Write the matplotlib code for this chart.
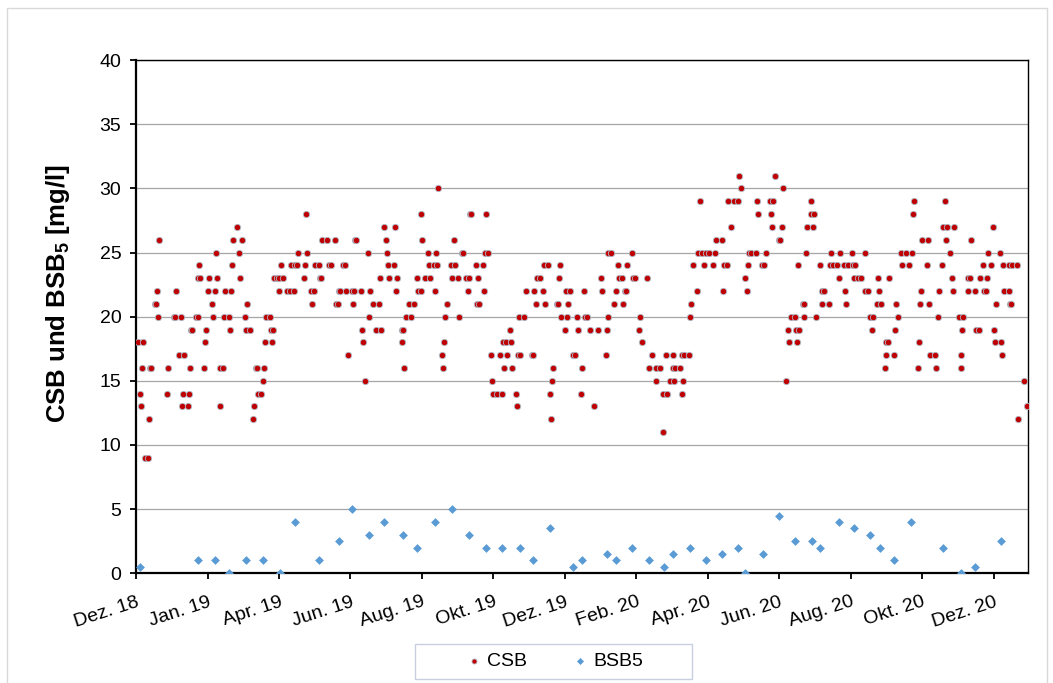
import numpy as np
import pandas as pd
import matplotlib.pyplot as plt
from matplotlib.patches import Rectangle

plt.rcParams['font.family'] = ['Liberation Sans', 'DejaVu Sans']
plt.rcParams['mathtext.fontset'] = 'custom'
plt.rcParams['mathtext.rm'] = 'Liberation Sans'
plt.rcParams['mathtext.bf'] = 'Liberation Sans:bold'

start = pd.Timestamp('2018-12-01')
end = pd.Timestamp('2020-12-31')

# CSB samples: (days since 01.12.2018, mg/l)
csb = [
    (2, 18), (3, 14), (4, 13), (5, 16), (6, 18), (8, 9), (10, 9), (11, 12), (12, 16), (13, 16),
    (16, 21), (17, 21), (18, 22), (19, 20), (20, 26), (26, 14), (27, 16), (32, 20), (33, 20), (34, 22),
    (37, 17), (38, 20), (39, 13), (40, 14), (41, 17), (44, 13), (45, 14), (46, 16), (47, 19), (48, 19),
    (51, 20), (53, 20), (53, 23), (54, 24), (55, 23), (58, 16), (59, 18), (60, 19), (61, 22), (62, 23),
    (65, 21), (66, 20), (67, 22), (68, 25), (69, 23), (72, 13), (72, 16), (74, 16), (75, 20), (76, 22),
    (79, 20), (80, 19), (81, 22), (82, 24), (83, 26), (86, 27), (88, 25), (89, 23), (90, 26), (93, 20),
    (94, 19), (95, 21), (97, 19), (100, 12), (101, 13), (102, 16), (103, 16), (104, 14),
    (107, 14), (108, 15), (109, 16), (110, 18), (111, 20), (114, 20), (115, 19), (116, 18), (117, 19), (118, 23),
    (120, 23), (122, 23), (122, 22), (124, 24), (125, 23), (129, 22), (131, 22), (132, 24), (135, 22), (136, 24),
    (137, 24), (138, 25), (143, 23), (144, 24), (145, 28), (146, 25), (149, 22), (150, 21), (152, 22), (153, 24),
    (156, 24), (157, 23), (158, 23), (159, 26), (163, 26), (165, 24), (166, 24), (170, 26), (171, 21), (172, 21),
    (173, 22), (174, 22), (177, 24), (178, 24), (179, 22), (181, 17), (184, 22), (185, 21), (186, 22), (187, 26),
    (188, 26), (192, 22), (193, 19), (194, 18), (195, 15), (198, 25), (199, 20), (200, 22), (202, 21), (205, 19),
    (207, 21), (208, 23), (209, 19), (212, 27), (213, 26), (214, 25), (215, 24), (216, 23),
    (220, 24), (221, 27), (222, 22), (223, 23), (227, 19), (227, 18), (228, 19), (229, 16), (230, 20), (233, 21),
    (235, 20), (237, 21), (240, 23), (241, 22), (243, 22), (243, 28), (244, 26), (247, 23), (249, 25), (250, 24),
    (251, 23), (254, 24), (255, 22), (256, 25), (257, 24), (258, 30), (261, 17), (262, 16), (263, 18), (264, 20),
    (265, 21), (269, 24), (270, 23), (271, 26), (272, 24), (275, 23), (276, 20), (278, 25), (279, 25), (282, 23),
    (283, 22), (284, 23), (285, 28), (286, 28), (290, 24), (291, 21), (292, 23), (293, 21), (296, 24), (297, 22),
    (298, 25), (299, 28), (300, 25), (303, 17), (304, 15), (305, 14), (308, 14), (311, 17), (312, 14), (313, 18),
    (314, 16), (316, 18), (317, 17), (319, 19), (320, 18), (321, 16), (324, 14), (325, 13), (326, 17), (327, 20),
    (328, 17), (331, 20), (333, 22), (338, 17), (339, 17), (340, 22), (341, 21), (342, 23), (345, 23), (347, 22),
    (348, 24), (349, 21), (352, 24), (353, 14), (354, 12), (355, 15), (356, 16), (359, 21), (360, 21), (361, 23),
    (362, 24), (363, 20), (366, 19), (367, 22), (368, 20), (369, 21), (370, 22), (373, 17), (375, 17), (376, 20),
    (377, 19), (380, 14), (381, 16), (382, 22), (383, 20), (385, 20), (387, 19), (391, 13), (394, 19), (397, 23),
    (398, 22), (401, 17), (402, 19), (403, 25), (403, 20), (405, 25), (408, 21), (410, 22), (411, 24), (412, 23),
    (415, 23), (416, 21), (417, 22), (418, 22), (419, 24), (423, 25), (424, 23), (426, 23), (429, 19), (430, 20),
    (432, 18), (436, 23), (438, 16),
    (440, 17), (444, 16), (444, 15), (447, 16), (450, 14), (450, 11), (452, 17), (453, 14), (456, 15), (458, 17),
    (458, 16), (459, 15), (460, 16), (464, 16), (466, 17), (466, 14), (467, 15), (468, 17), (472, 17), (473, 20),
    (474, 21), (475, 24), (479, 22), (480, 25), (481, 29), (483, 25), (485, 24), (486, 25), (489, 25), (492, 24),
    (494, 25), (495, 26), (500, 26), (501, 22), (502, 24), (504, 24), (505, 29), (508, 27), (510, 29), (514, 29),
    (515, 31), (516, 30), (520, 23), (521, 22), (522, 24), (523, 25), (525, 25), (529, 25), (530, 29), (531, 28),
    (534, 24), (536, 24), (538, 25), (541, 29), (542, 28), (543, 27), (544, 29), (545, 31), (549, 26),
    (550, 26), (551, 27), (552, 30), (555, 15), (556, 19), (557, 18), (559, 20), (562, 20), (563, 19), (564, 18),
    (565, 24), (566, 19), (569, 21), (570, 20), (570, 21), (572, 25), (573, 27), (576, 29), (576, 28), (578, 27),
    (579, 28), (580, 20), (584, 24), (585, 22), (585, 21), (587, 22), (591, 21), (592, 24), (593, 25), (595, 24),
    (598, 24), (600, 23), (601, 25), (604, 24), (605, 22), (606, 21), (608, 24), (611, 25), (612, 24), (613, 23),
    (614, 24), (616, 23), (619, 23), (622, 22), (622, 25), (625, 22), (626, 20), (628, 19), (629, 20), (632, 21),
    (633, 23), (634, 22), (636, 21), (639, 16), (640, 17), (640, 18), (642, 18), (643, 23), (647, 17), (648, 19),
    (649, 21), (650, 20), (653, 25), (654, 24),
    (657, 25), (660, 24), (662, 25), (663, 28), (664, 29), (667, 16), (668, 18), (669, 21), (670, 22), (671, 26),
    (675, 24), (676, 26), (677, 21), (678, 17), (682, 17), (683, 16), (684, 20), (685, 22), (688, 24), (689, 27),
    (690, 29), (691, 26), (692, 27), (695, 25), (696, 23), (697, 22), (698, 27), (702, 20), (704, 17), (704, 16),
    (705, 19), (706, 20), (710, 23), (710, 22), (712, 23), (713, 26), (716, 22), (717, 19), (719, 19), (720, 23),
    (723, 24), (724, 22), (725, 22), (726, 23), (727, 25), (730, 24), (731, 27), (732, 19), (733, 18), (734, 21),
    (737, 25), (738, 18), (739, 17), (740, 24), (741, 22), (745, 22), (745, 24), (746, 21), (747, 21), (748, 24),
    (752, 24), (753, 12), (758, 15), (760, 13),
]

# BSB5 samples (days since 01.12.2018)
bsb5_day = [3, 53, 67, 79, 94, 108, 123, 136, 156, 173,
            184, 199, 212, 228, 240, 255, 270, 284, 299, 312,
            328, 339, 353, 373, 381, 402, 410, 423, 438, 451,
            458, 473, 486, 500, 514, 520, 535, 549, 562, 577,
            584, 600, 613, 626, 635, 647, 661, 689, 704, 716,
            738]
bsb5_val = [0.5, 1, 1, 0, 1, 1, 0, 4, 1, 2.5,
            5, 3, 4, 3, 2, 4, 5, 3, 2, 2,
            2, 1, 3.5, 0.5, 1, 1.5, 1, 2, 1, 0.5,
            1.5, 2, 1, 1.5, 2, 0, 1.5, 4.5, 2.5, 2.5,
            2, 4, 3.5, 3, 2, 1, 4, 2, 0, 0.5,
            2.5]

tick_labels = ['Dez. 18', 'Jan. 19', 'Apr. 19', 'Jun. 19', 'Aug. 19', 'Okt. 19', 'Dez. 19',
               'Feb. 20', 'Apr. 20', 'Jun. 20', 'Aug. 20', 'Okt. 20', 'Dez. 20']

csb_day = [p[0] for p in csb]
csb_val = [p[1] for p in csb]
csb_date = start + pd.to_timedelta(csb_day, unit='D')
bsb5_date = start + pd.to_timedelta(bsb5_day, unit='D')
# excel date axis, major unit 61 days
tick_dates = start + pd.to_timedelta(np.arange(len(tick_labels)) * 61, unit='D')

fig = plt.figure(figsize=(10.53, 6.83), dpi=100)
ax = fig.add_axes([0.1292, 0.1606, 0.8468, 0.7515])

ax.scatter(csb_date, csb_val, s=21, c='#c00000', edgecolors='#b0bccb', linewidths=0.6,
           label='CSB', zorder=3)
ax.scatter(bsb5_date, bsb5_val, s=20, marker='D', c='#5b9bd5', linewidths=0,
           label='BSB5', zorder=3)

ax.set_xlim(start, end)
ax.set_ylim(0, 40)
ax.set_yticks(np.arange(0, 41, 5))
ax.set_xticks(tick_dates)
ax.set_xticklabels(tick_labels, rotation=18, ha='right', va='top', rotation_mode='anchor')

ax.yaxis.grid(True, color='#a6a6a6', linewidth=0.9)
ax.set_axisbelow(True)

for side in ['top', 'right']:
    ax.spines[side].set_linewidth(1.0)
for side in ['left', 'bottom']:
    ax.spines[side].set_linewidth(1.6)
for sp in ax.spines.values():
    sp.set_color('black')

ax.tick_params(axis='both', direction='out', length=4.5, width=1.3, labelsize=14, colors='black')
ax.tick_params(axis='x', pad=10)
ax.tick_params(axis='y', pad=6)

ax.set_ylabel(r'CSB und BSB$_\mathbf{5}$ [mg/l]', fontsize=18.5, fontweight='bold')
ax.yaxis.set_label_coords(-0.072, 0.546)

leg = fig.legend(loc='center', bbox_to_anchor=(553.5 / 1053, 1 - 661.5 / 683), ncol=2,
                 frameon=False, fontsize=14, handlelength=1.0, handletextpad=0.2,
                 columnspacing=2.2, borderpad=0, markerscale=0.8)

# legend box and chart area border
fig.patches.append(Rectangle((415 / 1053, 1 - 679 / 683), 277 / 1053, 35 / 683,
                             transform=fig.transFigure, fill=False, edgecolor='#c8d0e0',
                             linewidth=1.0))
fig.patches.append(Rectangle((7 / 1053, -0.01), 1040 / 1053, 1 - 8 / 683 + 0.01,
                             transform=fig.transFigure, fill=False, edgecolor='#d9d9d9',
                             linewidth=1.0))

fig.savefig('out.png', dpi=100)
